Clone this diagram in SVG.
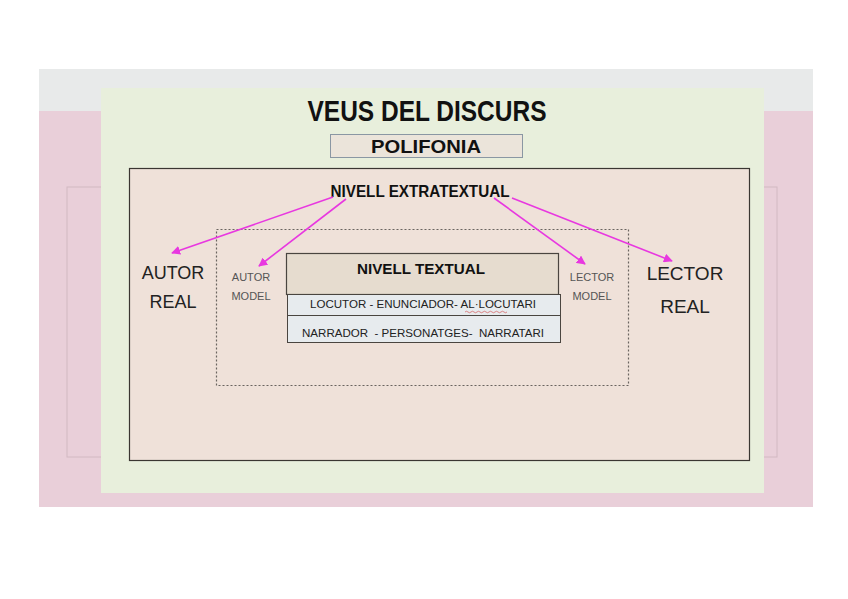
<svg xmlns="http://www.w3.org/2000/svg" width="848" height="599" viewBox="0 0 848 599">
<defs>
<style>
text{white-space:pre}
.b{font-family:"Liberation Sans",Arial,sans-serif;font-weight:bold;fill:#111;text-anchor:middle}
.r{font-family:"Liberation Sans",Arial,sans-serif;fill:#222;text-anchor:middle}
.m{font-family:"Liberation Sans",Arial,sans-serif;fill:#555;text-anchor:middle;font-size:11px}
.arr{stroke:#e838e0;stroke-width:1.6;fill:none;marker-end:url(#ah)}
</style>
<marker id="ah" viewBox="0 0 10 10" refX="9" refY="5" markerWidth="9" markerHeight="9" orient="auto" markerUnits="userSpaceOnUse">
<path d="M0,0 L10,5 L0,10 z" fill="#e838e0"/>
</marker>
</defs>
<rect width="848" height="599" fill="#ffffff"/>
<g id="background">
<rect x="39" y="69" width="774" height="438" fill="#e9cfd9"/>
<rect x="39" y="69" width="774" height="42" fill="#e8eaea"/>
<rect x="67" y="187" width="710" height="270" fill="none" stroke="#d2b9c2" stroke-width="1"/>
<rect x="101" y="88" width="663" height="405" fill="#e8efdc"/>
</g>
<g id="title">
<text class="b" x="427" y="121" font-size="30" textLength="239" lengthAdjust="spacingAndGlyphs">VEUS DEL DISCURS</text>
</g>
<g id="polifonia">
<rect x="330.5" y="134.5" width="192" height="23" fill="#ebe4da" stroke="#8a97a3" stroke-width="1"/>
<text class="b" x="426" y="153" font-size="19" textLength="110" lengthAdjust="spacingAndGlyphs">POLIFONIA</text>
</g>
<g id="main-box">
<rect x="129.5" y="168.5" width="620" height="292" fill="#efe1d9" stroke="#3a3632" stroke-width="1.2"/>
</g>
<g id="extratextual">
<text class="b" x="420" y="197" font-size="16.5" textLength="179" lengthAdjust="spacingAndGlyphs">NIVELL EXTRATEXTUAL</text>
</g>
<g id="model-box">
<rect x="216.5" y="229.5" width="412" height="156" fill="none" stroke="#6a6460" stroke-width="1.2" stroke-dasharray="2,2"/>
</g>
<g id="autor-real">
<text class="r" x="173" y="279" font-size="18">AUTOR</text>
<text class="r" x="173" y="308" font-size="18">REAL</text>
</g>
<g id="autor-model">
<text class="m" x="251" y="281">AUTOR</text>
<text class="m" x="251" y="300">MODEL</text>
</g>
<g id="lector-model">
<text class="m" x="592" y="281">LECTOR</text>
<text class="m" x="592" y="300">MODEL</text>
</g>
<g id="lector-real">
<text class="r" x="685" y="280" font-size="19">LECTOR</text>
<text class="r" x="685" y="313" font-size="19">REAL</text>
</g>
<g id="nivell-textual">
<rect x="286.5" y="253.5" width="272" height="41" fill="#e6dccf" stroke="#4a4540" stroke-width="1.2"/>
<text class="b" x="421" y="274" font-size="15" textLength="128" lengthAdjust="spacingAndGlyphs">NIVELL TEXTUAL</text>
<rect x="287.5" y="294.5" width="273" height="21" fill="#e7ebee" stroke="#4a4540" stroke-width="1"/>
<text class="r" x="423" y="308" font-size="11.5" fill="#111" textLength="226" lengthAdjust="spacingAndGlyphs">LOCUTOR - ENUNCIADOR- AL·LOCUTARI</text>
<path d="M465,312 q1.5,-1.5 3,0 t3,0 t3,0 t3,0 t3,0 t3,0 t3,0 t3,0 t3,0 t3,0 t3,0 t3,0 t3,0 t3,0" fill="none" stroke="#d04040" stroke-width="0.6"/>
<rect x="287.5" y="315.5" width="273" height="27" fill="#e7ebee" stroke="#4a4540" stroke-width="1"/>
<text class="r" x="423" y="337" font-size="11.5" fill="#111" textLength="242" lengthAdjust="spacingAndGlyphs">NARRADOR  - PERSONATGES-  NARRATARI</text>
</g>
<g id="connectors">
<line class="arr" x1="333" y1="197" x2="172" y2="253"/>
<line class="arr" x1="346" y1="199" x2="259" y2="266"/>
<line class="arr" x1="494" y1="198" x2="585" y2="264"/>
<line class="arr" x1="512" y1="198" x2="672" y2="261"/>
</g>
</svg>
